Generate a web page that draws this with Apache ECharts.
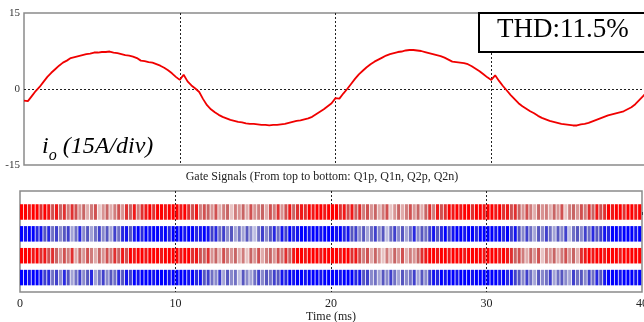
<!DOCTYPE html>
<html><head><meta charset="utf-8">
<script src="https://cdn.jsdelivr.net/npm/echarts@6/dist/echarts.min.js"></script>
<style>html,body{margin:0;padding:0;background:#fff}#c{width:644px;height:322px}</style>
</head><body><div id="c"></div>
<script>
// ---- data ----
const timeStepMs = 0.25; // sample spacing for current trace
const currentA = [
-2.3,-2.4,-1.4,-0.4,0.4,1.4,2.4,3.2,3.9,4.6,5.2,5.6,6.1,6.3,6.5,6.7,6.9,7.0,7.2,7.2,
7.3,7.3,7.4,7.2,7.1,6.9,6.7,6.6,6.4,6.1,5.6,5.5,5.3,5.2,4.9,4.6,4.2,3.7,3.1,2.4,
1.8,2.8,1.5,0.7,0.1,-0.6,-2.0,-3.2,-4.0,-4.6,-5.1,-5.5,-5.8,-6.1,-6.3,-6.5,-6.6,-6.8,-6.9,-6.9,
-7.0,-7.1,-7.1,-7.2,-7.1,-7.1,-7.0,-6.9,-6.7,-6.5,-6.3,-6.2,-6.0,-5.8,-5.5,-5.0,-4.5,-4.0,-3.4,-2.8,
-1.8,-1.9,-0.9,0.0,1.0,2.0,2.9,3.6,4.3,4.9,5.4,5.8,6.2,6.6,6.9,7.1,7.3,7.4,7.6,7.7,
7.7,7.6,7.5,7.3,7.1,6.9,6.7,6.5,6.2,5.8,5.4,5.3,5.2,5.1,4.9,4.5,4.0,3.5,2.9,2.3,
1.8,2.7,1.6,0.6,-0.3,-1.2,-2.0,-2.8,-3.4,-3.9,-4.4,-4.8,-5.3,-5.7,-6.0,-6.3,-6.5,-6.7,-6.9,-7.0,
-7.1,-7.2,-7.2,-7.0,-6.9,-6.7,-6.4,-6.1,-5.8,-5.5,-5.2,-5.0,-4.8,-4.6,-4.4,-4.0,-3.6,-3.0,-2.2,-1.4,
-0.6
];
const yTicks = [-15, 0, 15];
const xTicks = [0, 10, 20, 30, 40];
const gateNames = ['Q1p', 'Q1n', 'Q2p', 'Q2n'];
const gateBinMs = 0.25;
// pulse intensity per 0.25 ms bin (0 = pale, 9 = full colour)
const gateQ1p = [
9,9,8,9,9,7,9,8,6,8,5,7,4,7,6,3,5,2,4,6,1,3,5,2,4,6,3,7,5,8,4,7,8,9,7,9,9,8,9,9,
9,8,9,7,6,8,4,6,5,3,6,2,4,5,1,4,3,5,2,6,3,4,5,2,6,4,7,3,6,8,5,7,8,7,9,8,9,9,8,9,
9,9,7,8,6,8,5,7,4,6,3,5,2,4,6,1,3,5,2,4,6,3,5,2,5,7,4,8,6,7,9,8,9,8,9,9,7,9,9,8,
9,9,8,9,7,8,6,7,5,3,6,4,2,5,3,4,2,5,3,6,1,4,5,3,6,4,7,5,8,6,7,9,8,9,9,7,9,9,8,9];
const gateQ1n = [
9,8,9,9,7,8,5,7,4,6,3,5,6,2,4,7,3,5,2,4,6,3,5,2,6,4,7,8,5,8,9,7,9,8,9,9,8,9,7,9,
9,9,8,9,9,7,8,9,8,6,7,4,6,3,5,2,4,2,5,3,1,4,6,3,5,7,4,8,6,9,7,8,9,9,8,9,9,8,9,9,
9,8,9,7,8,5,6,3,5,2,4,6,3,5,1,4,6,3,5,2,4,7,3,5,4,6,8,5,7,9,6,8,9,9,8,9,9,7,9,9,
9,9,8,9,7,9,6,8,5,3,6,4,2,5,3,6,4,2,5,3,6,1,4,5,3,6,4,7,5,6,8,7,9,9,8,9,9,9,8,9];
const gateQ2p = [
9,9,9,8,9,7,8,6,7,5,3,6,4,7,2,5,3,6,4,2,5,3,6,4,7,5,8,6,9,8,9,9,8,9,9,9,8,9,9,9,
9,8,9,9,7,8,6,5,7,3,5,2,6,4,3,5,2,4,1,5,3,6,2,4,5,3,6,4,7,5,8,9,9,8,9,9,9,8,9,9,
9,9,8,9,9,7,8,6,4,6,2,5,3,1,4,2,5,3,6,2,4,3,5,7,8,9,9,8,9,9,8,9,9,9,8,9,9,9,9,8,
9,9,9,8,9,8,7,5,6,4,2,5,3,6,1,4,3,5,2,4,6,3,5,2,7,8,9,8,9,9,8,9,9,9,8,9,9,9,9,9];
const gateQ2n = [
9,9,8,9,9,8,6,7,4,6,3,7,5,2,4,6,3,5,7,2,4,6,3,5,4,7,5,8,6,9,8,9,9,9,8,9,9,9,8,9,
9,9,9,8,9,7,8,5,6,4,3,6,2,5,3,4,1,5,3,2,4,6,3,5,4,6,5,8,7,9,8,9,9,8,9,9,9,8,9,9,
9,9,8,9,9,9,7,8,5,6,3,4,2,5,3,6,4,2,5,3,4,6,2,5,3,6,8,7,9,8,9,9,8,9,9,9,8,9,9,9,
9,9,9,8,9,7,8,6,5,3,6,4,2,5,3,4,6,2,4,5,3,2,6,4,5,3,6,4,7,5,8,9,9,9,8,9,9,9,8,9];
const gateRows = [gateQ1p, gateQ1n, gateQ2p, gateQ2n];
const redShades  = ['#f4e0e0','#e8c4c4','#e0acac','#d89494','#d07c7c','#c86464','#d05050','#e03030','#f01818','#ff0000'];
const blueShades = ['#dcdcf0','#bebee2','#a4a4d6','#8a8acc','#7070c4','#5656c0','#4040cc','#2828e0','#1414f0','#0000ff'];

// ---- build ----
const currentData = currentA.map((v, i) => [i * timeStepMs, v]);
const gateData = [];
gateRows.forEach((row, r) => row.forEach((lv, i) => gateData.push([i * gateBinMs, r, lv])));

const serif = '"Liberation Serif","Times New Roman",serif';
const chart = echarts.init(document.getElementById('c'), null, {renderer: 'canvas'});
chart.setOption({
  animation: false,
  backgroundColor: '#fff',
  grid: [
    {left: 24, width: 623, top: 13, height: 152, show: true, borderColor: '#8a8a8a', borderWidth: 1.5, backgroundColor: 'transparent', containLabel: false, outerBoundsMode: 'none'},
    {left: 20, width: 622, top: 191, height: 101, show: true, borderColor: '#8a8a8a', borderWidth: 1.5, backgroundColor: 'transparent', containLabel: false, outerBoundsMode: 'none'}
  ],
  xAxis: [
    {type: 'value', gridIndex: 0, min: 0, max: 40, interval: 10,
     axisLine: {show: false}, axisTick: {show: false}, axisLabel: {show: false},
     splitLine: {show: true, showMinLine: false, showMaxLine: false, lineStyle: {color: '#222', type: [2, 2], width: 1}}},
    {type: 'value', gridIndex: 1, min: 0, max: 40, interval: 10,
     axisLine: {show: false}, axisTick: {show: true, length: 3, lineStyle: {color: '#444'}},
     axisLabel: {show: true, margin: 6, color: '#222', fontFamily: serif, fontSize: 12,
       formatter: v => xTicks.includes(v) ? String(v) : ''},
     name: 'Time (ms)', nameLocation: 'middle', nameGap: 18,
     nameTextStyle: {color: '#222', fontFamily: serif, fontSize: 12},
     splitLine: {show: true, showMinLine: false, showMaxLine: false, lineStyle: {color: '#222', type: [2, 2], width: 1}}}
  ],
  yAxis: [
    {type: 'value', gridIndex: 0, min: -15, max: 15, interval: 15,
     axisLine: {show: false}, axisTick: {show: false},
     axisLabel: {show: true, margin: 4, color: '#333', fontFamily: serif, fontSize: 11,
       formatter: v => yTicks.includes(v) ? String(v) : ''},
     splitLine: {show: true, showMinLine: false, showMaxLine: false, lineStyle: {color: '#222', type: [2, 2], width: 1}}},
    {type: 'value', gridIndex: 1, min: -0.96, max: 3.66, inverse: true,
     axisLine: {show: false}, axisTick: {show: false}, axisLabel: {show: false}, splitLine: {show: false}}
  ],
  series: [
    {type: 'line', xAxisIndex: 0, yAxisIndex: 0, data: currentData, showSymbol: false,
     lineStyle: {color: '#f00000', width: 1.8}, z: 5},
    {type: 'custom', xAxisIndex: 1, yAxisIndex: 1, data: gateData, z: 1,
     renderItem: function (params, api) {
       const t = api.value(0), r = api.value(1), lv = api.value(2);
       const a = api.coord([t, r - 0.355]);
       const b = api.coord([t + gateBinMs, r + 0.355]);
       const y0 = Math.min(a[1], b[1]), h = Math.abs(b[1] - a[1]);
       const w = Math.max(0.5, b[0] - a[0] - 0.8);
       const pal = (r % 2 === 0) ? redShades : blueShades;
       return {type: 'rect', shape: {x: a[0], y: y0, width: w, height: h},
               style: {fill: pal[lv]}};
     }}
  ],
  graphic: [
    {type: 'rect', left: 478, top: 12, shape: {width: 180, height: 39},
     style: {fill: '#fff', stroke: '#000', lineWidth: 2}, z: 10},
    {type: 'text', left: 497, top: 16, z: 11,
     style: {text: 'THD:11.5%', font: '27px ' + serif, fill: '#000'}},
    {type: 'text', left: 42, top: 135, z: 11,
     style: {text: '{i|i}{o|o}{i| (15A/div)}', fill: '#000',
       rich: {i: {fontFamily: serif, fontStyle: 'italic', fontSize: 24, fill: '#000', verticalAlign: 'bottom'},
              o: {fontFamily: serif, fontStyle: 'italic', fontSize: 16, fill: '#000', verticalAlign: 'bottom', padding: [0, 0, -5, 0]}}}},
    {type: 'text', left: 'center', top: 171, z: 11,
     style: {text: 'Gate Signals (From top to bottom: ' + gateNames.join(', ') + ')', font: '12px ' + serif, fill: '#222'}}
  ]
});
</script></body></html>
